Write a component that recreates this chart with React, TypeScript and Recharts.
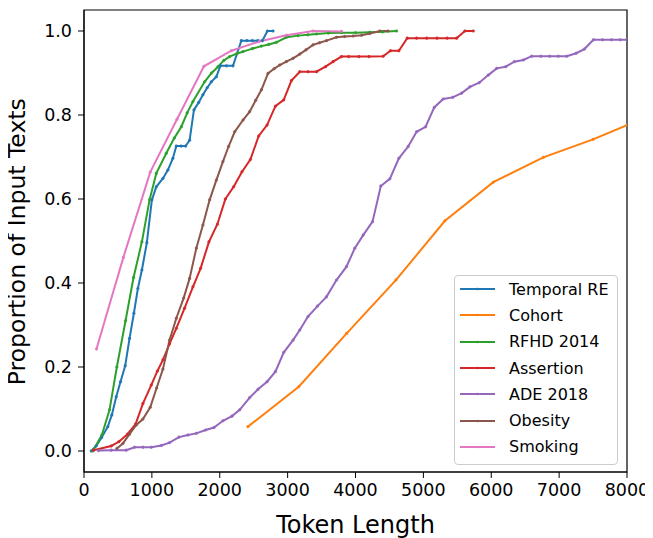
import {
  Legend,
  Line,
  LineChart,
  ReferenceArea,
  XAxis,
  YAxis,
} from "recharts";

// Token-length CDFs per dataset.
const temporalX = [106, 180, 260, 351, 410, 475, 538, 607, 671, 735, 794, 853, 926, 1000, 1065, 1163, 1236, 1310, 1360, 1430, 1497, 1556, 1620, 1690, 1752, 1815, 1876, 1950, 2009, 2100, 2195, 2318, 2400, 2480, 2560, 2628, 2702, 2785];
const temporalY = [0, 0.012, 0.032, 0.058, 0.086, 0.129, 0.165, 0.203, 0.268, 0.328, 0.387, 0.431, 0.496, 0.598, 0.629, 0.649, 0.669, 0.697, 0.726, 0.726, 0.726, 0.74, 0.812, 0.83, 0.848, 0.865, 0.879, 0.891, 0.917, 0.917, 0.917, 0.977, 0.977, 0.977, 0.977, 0.977, 1.0, 1.0];

const cohortX = [2416, 3164, 3870, 4595, 5318, 6030, 6767, 7500, 8000];
const cohortY = [0.058, 0.153, 0.28, 0.407, 0.548, 0.64, 0.699, 0.742, 0.776];

const rfhdX = [130, 263, 376, 484, 612, 730, 853, 966, 1065, 1212, 1330, 1434, 1520, 1605, 1777, 1880, 1974, 2060, 2146, 2250, 2343, 2480, 2614, 2720, 2835, 2982, 3154, 3300, 3425, 3600, 3793, 4000, 4211, 4400, 4605];
const rfhdY = [0, 0.038, 0.098, 0.2, 0.31, 0.413, 0.498, 0.598, 0.661, 0.709, 0.745, 0.772, 0.805, 0.832, 0.879, 0.9, 0.915, 0.93, 0.939, 0.946, 0.951, 0.958, 0.964, 0.968, 0.973, 0.985, 0.989, 0.991, 0.993, 0.995, 0.996, 0.996, 0.997, 0.998, 1.0];

const assertionX = [140, 401, 513, 640, 760, 868, 991, 1080, 1163, 1260, 1360, 1482, 1605, 1718, 1841, 1965, 2083, 2205, 2328, 2451, 2574, 2697, 2820, 2943, 3056, 3179, 3300, 3425, 3558, 3670, 3793, 3900, 4050, 4200, 4407, 4516, 4639, 4762, 4900, 5050, 5200, 5350, 5490, 5612, 5735];
const assertionY = [0.002, 0.012, 0.022, 0.04, 0.064, 0.113, 0.157, 0.19, 0.217, 0.255, 0.292, 0.34, 0.391, 0.435, 0.498, 0.54, 0.6, 0.629, 0.665, 0.694, 0.75, 0.776, 0.821, 0.836, 0.882, 0.903, 0.903, 0.903, 0.915, 0.927, 0.939, 0.939, 0.939, 0.939, 0.94, 0.953, 0.953, 0.983, 0.983, 0.983, 0.983, 0.983, 0.983, 1.0, 1.0];

const adeX = [214, 400, 622, 745, 870, 991, 1139, 1261, 1399, 1531, 1655, 1792, 1915, 2047, 2180, 2294, 2441, 2564, 2697, 2820, 2943, 3080, 3179, 3300, 3440, 3572, 3720, 3867, 3990, 4113, 4251, 4373, 4506, 4639, 4776, 4900, 5033, 5160, 5292, 5431, 5564, 5686, 5823, 5956, 6080, 6213, 6340, 6473, 6596, 6730, 6860, 6990, 7112, 7250, 7372, 7505, 7640, 7770, 7900, 8000];
const adeY = [0.001, 0.002, 0.002, 0.009, 0.009, 0.009, 0.013, 0.02, 0.033, 0.038, 0.042, 0.05, 0.056, 0.072, 0.083, 0.098, 0.127, 0.147, 0.165, 0.189, 0.235, 0.264, 0.288, 0.32, 0.345, 0.367, 0.407, 0.439, 0.483, 0.514, 0.546, 0.631, 0.648, 0.697, 0.725, 0.76, 0.772, 0.818, 0.838, 0.842, 0.852, 0.867, 0.877, 0.895, 0.911, 0.915, 0.927, 0.931, 0.94, 0.94, 0.94, 0.94, 0.94, 0.947, 0.957, 0.979, 0.979, 0.979, 0.979, 0.979];

const obesityX = [484, 573, 670, 770, 868, 976, 1070, 1163, 1261, 1360, 1468, 1556, 1655, 1752, 1851, 1950, 2047, 2130, 2220, 2343, 2441, 2530, 2614, 2711, 2800, 2884, 2980, 3080, 3179, 3270, 3375, 3470, 3572, 3720, 3840, 3965, 4090, 4211, 4359, 4481];
const obesityY = [0.006, 0.018, 0.04, 0.062, 0.076, 0.104, 0.15, 0.195, 0.264, 0.316, 0.364, 0.411, 0.483, 0.538, 0.598, 0.645, 0.689, 0.725, 0.76, 0.788, 0.808, 0.835, 0.86, 0.899, 0.91, 0.919, 0.927, 0.935, 0.945, 0.955, 0.967, 0.972, 0.977, 0.985, 0.987, 0.988, 0.99, 0.994, 1.0, 1.0];

const smokingX = [184, 580, 976, 1370, 1767, 2171, 2580, 2982, 3375, 3793];
const smokingY = [0.243, 0.461, 0.664, 0.79, 0.916, 0.953, 0.975, 0.99, 1.0, 0.999];

const xTicks = [0, 1000, 2000, 3000, 4000, 5000, 6000, 7000, 8000];
const yTicks = [0, 0.2, 0.4, 0.6, 0.8, 1.0];

const FONT = "DejaVu Sans";

const toPoints = (xs: number[], ys: number[]) => xs.map((x, i) => ({ x, y: ys[i] }));

const series = [
  { name: "Temporal RE", color: "#1f77b4", data: toPoints(temporalX, temporalY) },
  { name: "Cohort", color: "#ff7f0e", data: toPoints(cohortX, cohortY) },
  { name: "RFHD 2014", color: "#2ca02c", data: toPoints(rfhdX, rfhdY) },
  { name: "Assertion", color: "#d62728", data: toPoints(assertionX, assertionY) },
  { name: "ADE 2018", color: "#9467bd", data: toPoints(adeX, adeY) },
  { name: "Obesity", color: "#8c564b", data: toPoints(obesityX, obesityY) },
  { name: "Smoking", color: "#e377c2", data: toPoints(smokingX, smokingY) },
];

function LegendBox() {
  return (
    <div
      style={{
        width: 162,
        border: "1px solid #cccccc",
        borderRadius: 4,
        background: "rgba(255,255,255,0.85)",
        paddingBottom: 4,
        fontFamily: FONT,
        fontSize: 16,
        color: "#000",
      }}
    >
      {series.map((s) => (
        <div key={s.name} style={{ display: "flex", alignItems: "center", height: 26.3 }}>
          <svg width={54} height={10} style={{ flex: "none" }}>
            <line x1={5} x2={40} y1={5} y2={5} stroke={s.color} strokeWidth={2} />
            <circle cx={22.5} cy={5} r={1.3} fill={s.color} />
          </svg>
          <span style={{ whiteSpace: "nowrap" }}>{s.name}</span>
        </div>
      ))}
    </div>
  );
}

export default function App() {
  return (
    <LineChart
      width={645}
      height={530}
      margin={{ top: 2, right: 26, left: 0, bottom: 0 }}
      style={{ fontFamily: FONT }}
    >
      <XAxis
        type="number"
        dataKey="x"
        domain={[0, 8000]}
        ticks={xTicks}
        allowDataOverflow
        height={66}
        tickSize={6}
        tickMargin={6}
        stroke="#000"
        tick={{ fill: "#000", fontSize: 17.5, fontFamily: FONT }}
        label={{
          content: () => (
            <text x={347.5} y={525} textAnchor="middle" fontSize={24} fontFamily={FONT} fill="#000">
              Token Length
            </text>
          ),
        }}
      />
      <YAxis
        type="number"
        dataKey="y"
        domain={[-0.05, 1.05]}
        ticks={yTicks}
        allowDataOverflow
        width={76}
        tickSize={6}
        tickMargin={6}
        stroke="#000"
        tickFormatter={(v: number) => v.toFixed(1)}
        tick={{ fill: "#000", fontSize: 17.5, fontFamily: FONT }}
        label={{
          content: () => (
            <text
              transform="translate(16.5,233.7) rotate(-90)"
              textAnchor="middle"
              fontSize={23.5}
              fontFamily={FONT}
              fill="#000"
            >
              Proportion of Input Texts
            </text>
          ),
        }}
      />
      <ReferenceArea
        x1={0}
        x2={8000}
        y1={-0.05}
        y2={1.05}
        fill="none"
        stroke="#000"
        strokeWidth={1.2}
        fillOpacity={0}
      />
      {series.map((s) => (
        <Line
          key={s.name}
          data={s.data}
          dataKey="y"
          name={s.name}
          type="linear"
          stroke={s.color}
          strokeWidth={2}
          dot={{ r: 1.3, fill: s.color, stroke: s.color, strokeWidth: 0.5 }}
          activeDot={false}
          isAnimationActive={false}
        />
      ))}
      <Legend
        layout="vertical"
        align="center"
        verticalAlign="middle"
        content={() => <LegendBox />}
        wrapperStyle={{ left: 446, top: 267, width: 164, height: 190 }}
      />
    </LineChart>
  );
}
